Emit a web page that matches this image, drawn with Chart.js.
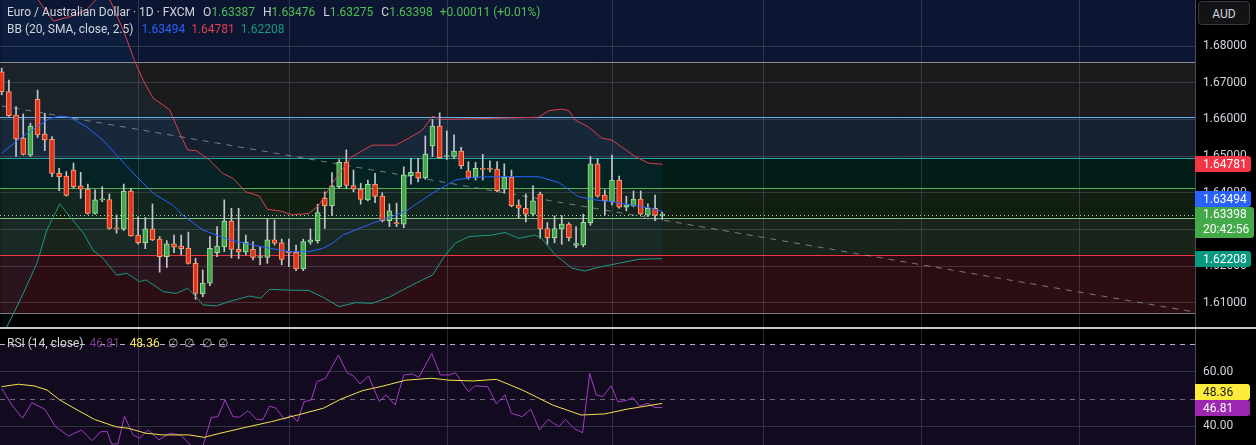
<!DOCTYPE html>
<html>
<head>
<meta charset="utf-8">
<title>Euro / Australian Dollar 1D</title>
<script src="https://cdn.jsdelivr.net/npm/chart.js@4.4.1/dist/chart.umd.min.js"></script>
<style>
  html, body { margin: 0; padding: 0; background: #000; }
  body { width: 1256px; height: 445px; overflow: hidden; position: relative; font-family: Roboto, "Noto Sans", sans-serif; }
  canvas { position: absolute; left: 0; }
  #mainCanvas { top: 0; }
  #rsiCanvas { top: 329px; }
  #sep { position: absolute; left: 0; top: 327px; width: 1256px; height: 2px; background: #c3c6ce; }
  .row { position: absolute; left: 7px; display: flex; font-size: 12px; line-height: 16px; white-space: nowrap; color: #d1d4dc; }
  .row span { display: inline-block; }
  .g { color: #4fbf55; }
  .tag { position: absolute; left: 1195px; width: 48px; height: 16px; line-height: 16px; padding-left: 8px;
         font-size: 12px; color: #fff; border-radius: 0 3px 3px 0; white-space: nowrap; }
  #aud { position: absolute; left: 1198px; top: 1px; width: 52px; height: 24px; line-height: 24px; text-align: center;
         font-size: 12px; color: #d1d4dc; background: #131316; border: 1px solid #363a45; border-radius: 4px; box-sizing: border-box; }
</style>
</head>
<body>
<canvas id="mainCanvas" width="1256" height="327"></canvas>
<div id="sep"></div>
<canvas id="rsiCanvas" width="1256" height="116"></canvas>

<div class="row" style="top:4px">
  <span>Euro / Australian Dollar · 1D · FXCM</span>
  <span id="hO" style="margin-left:8px"></span>
  <span id="hH" style="margin-left:8px"></span>
  <span id="hL" style="margin-left:8px"></span>
  <span id="hC" style="margin-left:8px"></span>
  <span id="hChg" class="g" style="margin-left:7px"></span>
</div>
<div class="row" style="top:21px">
  <span>BB (20, SMA, close, 2.5)</span>
  <span id="bbB" style="margin-left:8px;color:#2962ff"></span>
  <span id="bbU" style="margin-left:6px;color:#e0404b"></span>
  <span id="bbL" style="margin-left:6px;color:#149a86"></span>
</div>
<div class="row" style="top:335px">
  <span>RSI (14, close)</span>
  <span id="rsiV" style="margin-left:6px;color:#7f3a9a"></span>
  <span id="rsiM" style="margin-left:10px;color:#f5e24c"></span>
  <span style="margin-left:8px;color:#b2b5be">∅</span>
  <span style="margin-left:6px;color:#b2b5be">∅</span>
  <span style="margin-left:8px;color:#b2b5be">∅</span>
  <span style="margin-left:6px;color:#b2b5be">∅</span>
</div>

<div id="aud">AUD</div>
<div class="tag" id="tagU" style="background:#f23645"></div>
<div class="tag" id="tagB" style="background:#2962ff"></div>
<div class="tag" id="tagC" style="background:#43a949;height:31px;width:51px;line-height:15px"></div>
<div class="tag" id="tagL" style="background:#089981"></div>
<div class="tag" id="tagM" style="background:#ffeb3b;color:#131722;width:47px"></div>
<div class="tag" id="tagR" style="background:#9c27b0;width:47px"></div>

<script>
// ---- data ----
const priceTicks = [1.61, 1.62, 1.63, 1.64, 1.65, 1.66, 1.67, 1.68];
const zoneLevels = [1.6756, 1.6607, 1.6495, 1.6413, 1.6332, 1.6231, 1.6073];
const monthStarts = [19, 40, 62, 85, 106, 128, 150];
const countdown = '20:42:56';

const opens = [
  1.6730, 1.6676, 1.6612, 1.6549, 1.6503, 1.6655, 1.6560, 1.6546, 1.6453, 1.6446,
  1.6462, 1.6419, 1.6410, 1.6344, 1.6381, 1.6382, 1.6304, 1.6302, 1.6405, 1.6285,
  1.6264, 1.6302, 1.6274, 1.6226, 1.6261, 1.6255, 1.6249, 1.6208, 1.6125, 1.6154,
  1.6237, 1.6253, 1.6323, 1.6246, 1.6239, 1.6246, 1.6224, 1.6224, 1.6272, 1.6264,
  1.6241, 1.6238, 1.6193, 1.6266, 1.6270, 1.6385, 1.6365, 1.6417, 1.6483, 1.6420,
  1.6410, 1.6381, 1.6423, 1.6391, 1.6324, 1.6318, 1.6315, 1.6447, 1.6456, 1.6441,
  1.6528, 1.6582, 1.6499, 1.6499, 1.6514, 1.6460, 1.6442, 1.6467, 1.6466, 1.6465,
  1.6410, 1.6442, 1.6367, 1.6358, 1.6342, 1.6397, 1.6303, 1.6278, 1.6302, 1.6315,
  1.6257, 1.6258, 1.6319, 1.6479, 1.6394, 1.6376, 1.6435, 1.6361, 1.6365, 1.6383,
  1.6339, 1.6358, 1.63387
];
const highs = [
  1.6740, 1.6707, 1.6635, 1.6615, 1.6590, 1.6680, 1.6617, 1.6553, 1.6467, 1.6458,
  1.6481, 1.6456, 1.6424, 1.6408, 1.6417, 1.6397, 1.6340, 1.6424, 1.6412, 1.6335,
  1.6333, 1.6370, 1.6281, 1.6270, 1.6285, 1.6285, 1.6293, 1.6222, 1.6190, 1.6281,
  1.6308, 1.6381, 1.6358, 1.6358, 1.6285, 1.6267, 1.6253, 1.6329, 1.6326, 1.6274,
  1.6274, 1.6258, 1.6274, 1.6302, 1.6369, 1.6403, 1.6455, 1.6491, 1.6517, 1.6462,
  1.6426, 1.6435, 1.6453, 1.6400, 1.6370, 1.6372, 1.6471, 1.6494, 1.6494, 1.6555,
  1.6600, 1.6618, 1.6569, 1.6558, 1.6524, 1.6485, 1.6483, 1.6505, 1.6487, 1.6485,
  1.6479, 1.6462, 1.6381, 1.6397, 1.6419, 1.6402, 1.6319, 1.6337, 1.6338, 1.6319,
  1.6308, 1.6342, 1.6499, 1.6494, 1.6408, 1.6503, 1.6446, 1.6391, 1.6405, 1.6405,
  1.6370, 1.6394, 1.63476
];
const lows = [
  1.6667, 1.6608, 1.6499, 1.6503, 1.6499, 1.6551, 1.6515, 1.6444, 1.6406, 1.6391,
  1.6412, 1.6385, 1.6342, 1.6342, 1.6376, 1.6301, 1.6290, 1.6297, 1.6282, 1.6260,
  1.6248, 1.6270, 1.6184, 1.6197, 1.6237, 1.6231, 1.6206, 1.6110, 1.6117, 1.6147,
  1.6226, 1.6240, 1.6223, 1.6221, 1.6231, 1.6217, 1.6204, 1.6208, 1.6258, 1.6204,
  1.6199, 1.6188, 1.6188, 1.6260, 1.6263, 1.6303, 1.6338, 1.6412, 1.6412, 1.6403,
  1.6369, 1.6378, 1.6373, 1.6321, 1.6308, 1.6308, 1.6305, 1.6424, 1.6430, 1.6437,
  1.6499, 1.6494, 1.6491, 1.6493, 1.6466, 1.6437, 1.6435, 1.6435, 1.6457, 1.6403,
  1.6399, 1.6362, 1.6331, 1.6321, 1.6337, 1.6276, 1.6260, 1.6264, 1.6260, 1.6269,
  1.6251, 1.6253, 1.6312, 1.6388, 1.6340, 1.6367, 1.6358, 1.6351, 1.6362, 1.6341,
  1.6335, 1.6324, 1.63275
];
const closes = [
  1.6676, 1.6610, 1.6547, 1.6505, 1.6582, 1.6558, 1.6544, 1.6453, 1.6444, 1.6393,
  1.6417, 1.6410, 1.6344, 1.6381, 1.6383, 1.6303, 1.6302, 1.6405, 1.6283, 1.6264,
  1.6302, 1.6272, 1.6226, 1.6261, 1.6252, 1.6248, 1.6208, 1.6126, 1.6154, 1.6249,
  1.6255, 1.6323, 1.6246, 1.6239, 1.6265, 1.6224, 1.6225, 1.6272, 1.6263, 1.6219,
  1.6237, 1.6193, 1.6267, 1.6272, 1.6346, 1.6365, 1.6419, 1.6483, 1.6420, 1.6410,
  1.6382, 1.6423, 1.6390, 1.6324, 1.6351, 1.6316, 1.6449, 1.6456, 1.6441, 1.6506,
  1.6582, 1.6496, 1.6500, 1.6514, 1.6474, 1.6442, 1.6467, 1.6464, 1.6464, 1.6406,
  1.6442, 1.6365, 1.6358, 1.6342, 1.6378, 1.6302, 1.6278, 1.6303, 1.6315, 1.6278,
  1.6262, 1.6320, 1.6479, 1.6391, 1.6379, 1.6435, 1.6361, 1.6367, 1.6383, 1.6342,
  1.6358, 1.63387, 1.63398
];

// Bollinger bands, read as [candle index, price]
const bbUpper = [
  [0, 1.7000], [3, 1.6965], [5.1, 1.6925], [7.2, 1.6868], [9.5, 1.6880], [11.8, 1.6898],
  [13.5, 1.6935], [15.1, 1.6925], [17.0, 1.6840], [18.5, 1.6760], [19.7, 1.6707], [21.1, 1.6658],
  [22.5, 1.6639], [23.4, 1.6626], [24.8, 1.6562], [25.9, 1.6517], [27.1, 1.6515], [28.9, 1.6490],
  [30.8, 1.6453], [32.2, 1.6440], [34.0, 1.6403], [35.9, 1.6391], [37.0, 1.6355], [38.7, 1.6351],
  [40.5, 1.6340], [42.8, 1.6344], [44.2, 1.6367], [46.1, 1.6428], [48.8, 1.6499], [51.6, 1.6530],
  [54.9, 1.6530], [56.7, 1.6549], [58.6, 1.6571], [60.0, 1.6609], [61.4, 1.6600], [68.3, 1.6603],
  [74.8, 1.6606], [76.2, 1.6624], [78.0, 1.6628], [79.0, 1.6624], [79.9, 1.6598], [81.7, 1.6580],
  [83.6, 1.6549], [85.0, 1.6544], [86.8, 1.6519], [88.2, 1.6499], [90.1, 1.6481], [92, 1.64781]
];
const bbBasis = [
  [0, 1.6508], [2.6, 1.6549], [4.9, 1.6580], [6.7, 1.6603], [8.1, 1.6609], [9.5, 1.6606],
  [11.8, 1.6580], [14.1, 1.6544], [16.4, 1.6494], [18.8, 1.6444], [21.1, 1.6399], [23.8, 1.6367],
  [25.2, 1.6340], [28.0, 1.6299], [31.7, 1.6272], [36.3, 1.6253], [40.0, 1.6240], [42.8, 1.6240],
  [44.7, 1.6249], [46.1, 1.6263], [47.5, 1.6285], [51.6, 1.6317], [56.2, 1.6349], [60.0, 1.6399],
  [63.2, 1.6435], [65.5, 1.6442], [68.3, 1.6444], [74.8, 1.6444], [77.6, 1.6428], [80.3, 1.6390],
  [82.6, 1.6381], [85.0, 1.6376], [87.7, 1.6367], [90.5, 1.6358], [92, 1.63494]
];
const bbLower = [
  [0, 1.6007], [1.9, 1.6081], [3.0, 1.6126], [4.9, 1.6208], [6.3, 1.6299], [8.1, 1.6370],
  [9.5, 1.6335], [11.4, 1.6290], [12.7, 1.6244], [14.1, 1.6222], [16.0, 1.6176], [17.4, 1.6181],
  [19.2, 1.6158], [20.1, 1.6163], [22.5, 1.6131], [24.3, 1.6126], [25.9, 1.6140], [27.1, 1.6116],
  [28.0, 1.6095], [29.9, 1.6092], [31.7, 1.6104], [34.5, 1.6119], [36.1, 1.6113], [37.3, 1.6137],
  [40.1, 1.6135], [42.8, 1.6134], [44.7, 1.6116], [47.0, 1.6090], [49.3, 1.6101], [51.6, 1.6099],
  [54.0, 1.6116], [56.3, 1.6140], [58.6, 1.6163], [60.0, 1.6176], [61.8, 1.6231], [63.2, 1.6263],
  [65.1, 1.6281], [68.3, 1.6285], [70.1, 1.6292], [72.0, 1.6276], [74.3, 1.6285], [75.2, 1.6276],
  [77.1, 1.6231], [79.4, 1.6195], [81.2, 1.6187], [83.1, 1.6197], [85.9, 1.6208], [88.7, 1.6219],
  [92, 1.62208]
];
const trendLine = [[0, 1.6637], [166, 1.6076]];

// RSI (14) and its moving average, [candle index, value]
const rsiTicks = [60, 40];
const rsiLevels = [70, 50];
const rsiLine = [
  [0, 53.9], [1.4, 47.8], [2.9, 42.9], [4.2, 48.6], [6.0, 46.2], [7.5, 39.8], [9.3, 36.4],
  [11.1, 38.6], [12.6, 34.7], [13.8, 38.0], [14.7, 38.0], [15.3, 33.5], [16.2, 33.5], [17.1, 43.7],
  [18.3, 36.8], [19.2, 35.6], [20.4, 38.6], [21.9, 35.0], [23.4, 37.4], [24.9, 36.8], [26.1, 33.7],
  [27.6, 28.8], [29.2, 43.2], [30.1, 43.5], [31.1, 49.6], [32.2, 43.5], [33.1, 43.3], [34.3, 45.7],
  [35.5, 42.5], [36.4, 42.5], [37.3, 47.4], [38.2, 46.6], [39.4, 42.5], [40.3, 44.1], [41.2, 41.7],
  [42.1, 49.0], [43.1, 49.6], [43.9, 56.3], [45.1, 57.6], [46.9, 66.1], [48.1, 59.6], [49.0, 58.4],
  [49.9, 55.5], [51.1, 58.4], [52.6, 49.0], [53.5, 51.5], [54.8, 47.8], [56.0, 58.8], [57.2, 59.2],
  [58.1, 57.9], [59.9, 66.7], [61.1, 58.8], [62.3, 58.8], [63.2, 59.6], [65.0, 52.7], [65.9, 54.8],
  [67.7, 54.5], [68.9, 48.2], [70.1, 51.5], [71.0, 44.7], [72.5, 43.5], [73.7, 46.2], [74.9, 38.6],
  [76.1, 42.5], [77.6, 39.8], [78.5, 42.5], [79.7, 39.2], [80.9, 37.6], [81.9, 59.4], [82.8, 51.5],
  [83.7, 50.9], [84.9, 54.8], [85.8, 49.0], [87.0, 49.4], [87.9, 50.6], [88.8, 47.4], [90.0, 48.4],
  [90.9, 46.9], [92, 46.81]
];
const rsiMa = [
  [0, 54.5], [2.3, 55.4], [4.5, 54.8], [6.3, 53.3], [8.1, 49.6], [10.5, 46.0], [12.9, 42.5],
  [15.9, 39.8], [17.7, 39.2], [20.1, 37.4], [22.5, 36.8], [26.1, 36.8], [28.2, 35.9], [30.4, 37.4],
  [34.0, 39.6], [37.6, 41.7], [41.2, 44.1], [44.8, 46.6], [47.2, 49.9], [50.2, 53.0], [53.2, 54.8],
  [56.3, 56.9], [59.9, 57.6], [62.3, 56.9], [65.6, 56.6], [68.9, 57.2], [72.5, 53.3], [76.7, 47.8],
  [80.7, 44.1], [84.0, 44.5], [87.0, 46.2], [92, 48.36]
];

// ---- styles ----
const topZoneFill = '#0c1632';
const zoneFills = ['#1b1b1e', '#16212f', '#041c18', '#111e12', '#19241a', '#2b0d12'];
const zoneLines = ['#8a8d96', '#64b5f6', '#26a69a', '#4caf50', '#81c784', '#f23645', '#787b86'];
const gridColor = 'rgba(130,133,144,0.30)';
const axisFont = { family: 'Roboto', size: 12 };
const X_MIN = -0.236, X_MAX = 166.2;

const toXY = arr => arr.map(p => ({ x: p[0], y: p[1] }));
const last = arr => arr[arr.length - 1];
const isUp = i => closes[i] >= opens[i];
const idx = closes.map((_, i) => i);

function hLine(ctx, x0, x1, y) {
  ctx.beginPath(); ctx.moveTo(x0, y); ctx.lineTo(x1, y); ctx.stroke();
}
function vLine(ctx, x, y0, y1) {
  ctx.beginPath(); ctx.moveTo(x, y0); ctx.lineTo(x, y1); ctx.stroke();
}

const mainPane = {
  id: 'mainPane',
  beforeDraw(chart) {
    const { ctx, chartArea: a } = chart;
    const y = chart.scales.y;
    ctx.save();
    ctx.fillStyle = '#000';
    ctx.fillRect(0, 0, chart.width, chart.height);
    const ys = zoneLevels.map(v => y.getPixelForValue(v));
    ctx.fillStyle = topZoneFill;
    ctx.fillRect(a.left, a.top, a.width, ys[0] - a.top);
    for (let k = 0; k < ys.length - 1; k++) {
      ctx.fillStyle = zoneFills[k];
      ctx.fillRect(a.left, ys[k], a.width, ys[k + 1] - ys[k]);
    }
    ctx.restore();
  },
  beforeDatasetsDraw(chart) {
    const { ctx, chartArea: a } = chart;
    const x = chart.scales.x, y = chart.scales.y;
    ctx.save();
    ctx.lineWidth = 1;
    ctx.strokeStyle = gridColor;
    monthStarts.forEach(m => vLine(ctx, Math.round(x.getPixelForValue(m)) + 0.5, a.top, a.bottom));
    zoneLevels.forEach((v, k) => {
      ctx.strokeStyle = zoneLines[k];
      hLine(ctx, a.left, a.right, Math.round(y.getPixelForValue(v)) + 0.5);
    });
    ctx.restore();
  },
  afterDatasetsDraw(chart) {
    const { ctx, chartArea: a } = chart;
    const py = Math.round(chart.scales.y.getPixelForValue(last(closes))) + 0.5;
    ctx.save();
    ctx.strokeStyle = '#a5d6a7';
    ctx.lineWidth = 1;
    ctx.setLineDash([1, 3]);
    hLine(ctx, a.left, a.right, py);
    ctx.restore();
  }
};

const rsiPane = {
  id: 'rsiPane',
  beforeDraw(chart) {
    const { ctx, chartArea: a } = chart;
    const y = chart.scales.y;
    ctx.save();
    ctx.fillStyle = '#000';
    ctx.fillRect(0, 0, chart.width, chart.height);
    const top = y.getPixelForValue(rsiLevels[0]);
    ctx.fillStyle = '#120a1f';
    ctx.fillRect(a.left, top, a.width, a.bottom - top);
    ctx.restore();
  },
  beforeDatasetsDraw(chart) {
    const { ctx, chartArea: a } = chart;
    const x = chart.scales.x, y = chart.scales.y;
    ctx.save();
    ctx.lineWidth = 1;
    ctx.strokeStyle = gridColor;
    monthStarts.forEach(m => vLine(ctx, Math.round(x.getPixelForValue(m)) + 0.5, a.top, a.bottom));
    ctx.setLineDash([5, 5]);
    ctx.strokeStyle = 'rgba(210,212,220,0.85)';
    hLine(ctx, a.left, a.right, Math.round(y.getPixelForValue(rsiLevels[0])) + 0.5);
    ctx.strokeStyle = 'rgba(140,130,160,0.75)';
    hLine(ctx, a.left, a.right, Math.round(y.getPixelForValue(rsiLevels[1])) + 0.5);
    ctx.restore();
  }
};

function rightAxis(min, max, ticks, digits) {
  return {
    position: 'right', min, max, beginAtZero: false,
    afterBuildTicks: s => { s.ticks = ticks.map(v => ({ value: v })); },
    afterFit: s => { s.width = 61; s.paddingTop = 0; s.paddingBottom = 0; },
    ticks: { color: '#d1d4dc', font: axisFont, padding: 8, callback: v => Number(v).toFixed(digits) },
    grid: { color: gridColor, drawTicks: false },
    border: { color: '#4a4d57' }
  };
}
const xAxis = { type: 'linear', min: X_MIN, max: X_MAX, offset: false, display: false };
const common = {
  responsive: false, animation: false, events: [],
  layout: { padding: 0 },
  plugins: { legend: { display: false }, tooltip: { enabled: false }, filler: { drawTime: 'beforeDatasetsDraw' } },
  elements: { point: { radius: 0 }, line: { borderWidth: 1, tension: 0 } }
};

const mainChart = new Chart(document.getElementById('mainCanvas'), {
  type: 'bar',
  data: {
    datasets: [
      { type: 'line', data: toXY(bbUpper), borderColor: '#d9404d', fill: 1,
        backgroundColor: 'rgba(33,150,243,0.06)', order: 0 },
      { type: 'line', data: toXY(bbLower), borderColor: '#1a9a87', fill: false, order: 0 },
      { type: 'line', data: toXY(bbBasis), borderColor: '#2962ff', fill: false, order: 0 },
      { type: 'line', data: toXY(trendLine), borderColor: 'rgba(160,163,172,0.7)',
        borderDash: [6, 6], fill: false, order: 3 },
      { type: 'bar', data: idx.map(i => ({ x: i, y: [opens[i], closes[i]] })),
        backgroundColor: c => isUp(c.dataIndex) ? '#43a649' : '#e2321f',
        borderColor: c => isUp(c.dataIndex) ? '#9fe0a2' : '#ff9e6c',
        borderWidth: 1, borderSkipped: false, barThickness: 5, minBarLength: 1,
        grouped: false, order: 1 },
      { type: 'bar', data: idx.map(i => ({ x: i, y: [lows[i], highs[i]] })),
        backgroundColor: '#c3c6cd', barThickness: 1, grouped: false, order: 2 }
    ]
  },
  options: Object.assign({}, common, {
    scales: { x: xAxis, y: rightAxis(1.60346, 1.69254, priceTicks, 5) }
  }),
  plugins: [mainPane]
});

const rsiChart = new Chart(document.getElementById('rsiCanvas'), {
  type: 'line',
  data: {
    datasets: [
      { data: toXY(rsiMa), borderColor: '#f5e24c', fill: false, order: 0 },
      { data: toXY(rsiLine), borderColor: '#a33cc6', fill: false, order: 1 }
    ]
  },
  options: Object.assign({}, common, {
    scales: { x: xAxis, y: rightAxis(33.10, 75.67, rsiTicks, 2) }
  }),
  plugins: [rsiPane]
});

// ---- legend texts and price tags ----
const n = closes.length - 1;
const f5 = v => v.toFixed(5);
const chg = closes[n] - closes[n - 1];
document.getElementById('hO').innerHTML = 'O<span class="g">' + f5(opens[n]) + '</span>';
document.getElementById('hH').innerHTML = 'H<span class="g">' + f5(highs[n]) + '</span>';
document.getElementById('hL').innerHTML = 'L<span class="g">' + f5(lows[n]) + '</span>';
document.getElementById('hC').innerHTML = 'C<span class="g">' + f5(closes[n]) + '</span>';
document.getElementById('hChg').textContent =
  (chg >= 0 ? '+' : '') + f5(chg) + ' (' + (chg >= 0 ? '+' : '') + (chg / closes[n - 1] * 100).toFixed(2) + '%)';
document.getElementById('bbB').textContent = f5(last(bbBasis)[1]);
document.getElementById('bbU').textContent = f5(last(bbUpper)[1]);
document.getElementById('bbL').textContent = f5(last(bbLower)[1]);
document.getElementById('rsiV').textContent = last(rsiLine)[1].toFixed(2);
document.getElementById('rsiM').textContent = last(rsiMa)[1].toFixed(2);

const my = mainChart.scales.y;
const setTag = (id, top, html) => {
  const el = document.getElementById(id);
  el.style.top = top + 'px';
  el.innerHTML = html;
};
const yC = my.getPixelForValue(closes[n]);
setTag('tagU', my.getPixelForValue(last(bbUpper)[1]) - 8, f5(last(bbUpper)[1]));
setTag('tagC', yC - 8, f5(closes[n]) + '<br>' + countdown);
setTag('tagB', Math.min(my.getPixelForValue(last(bbBasis)[1]) - 8, yC - 8 - 16), f5(last(bbBasis)[1]));
setTag('tagL', my.getPixelForValue(last(bbLower)[1]) - 8, f5(last(bbLower)[1]));

const ry = rsiChart.scales.y, rTop = 329;
const yR = rTop + ry.getPixelForValue(last(rsiLine)[1]);
setTag('tagR', yR - 8, last(rsiLine)[1].toFixed(2));
setTag('tagM', Math.min(rTop + ry.getPixelForValue(last(rsiMa)[1]) - 8, yR - 8 - 16), last(rsiMa)[1].toFixed(2));
</script>
</body>
</html>
